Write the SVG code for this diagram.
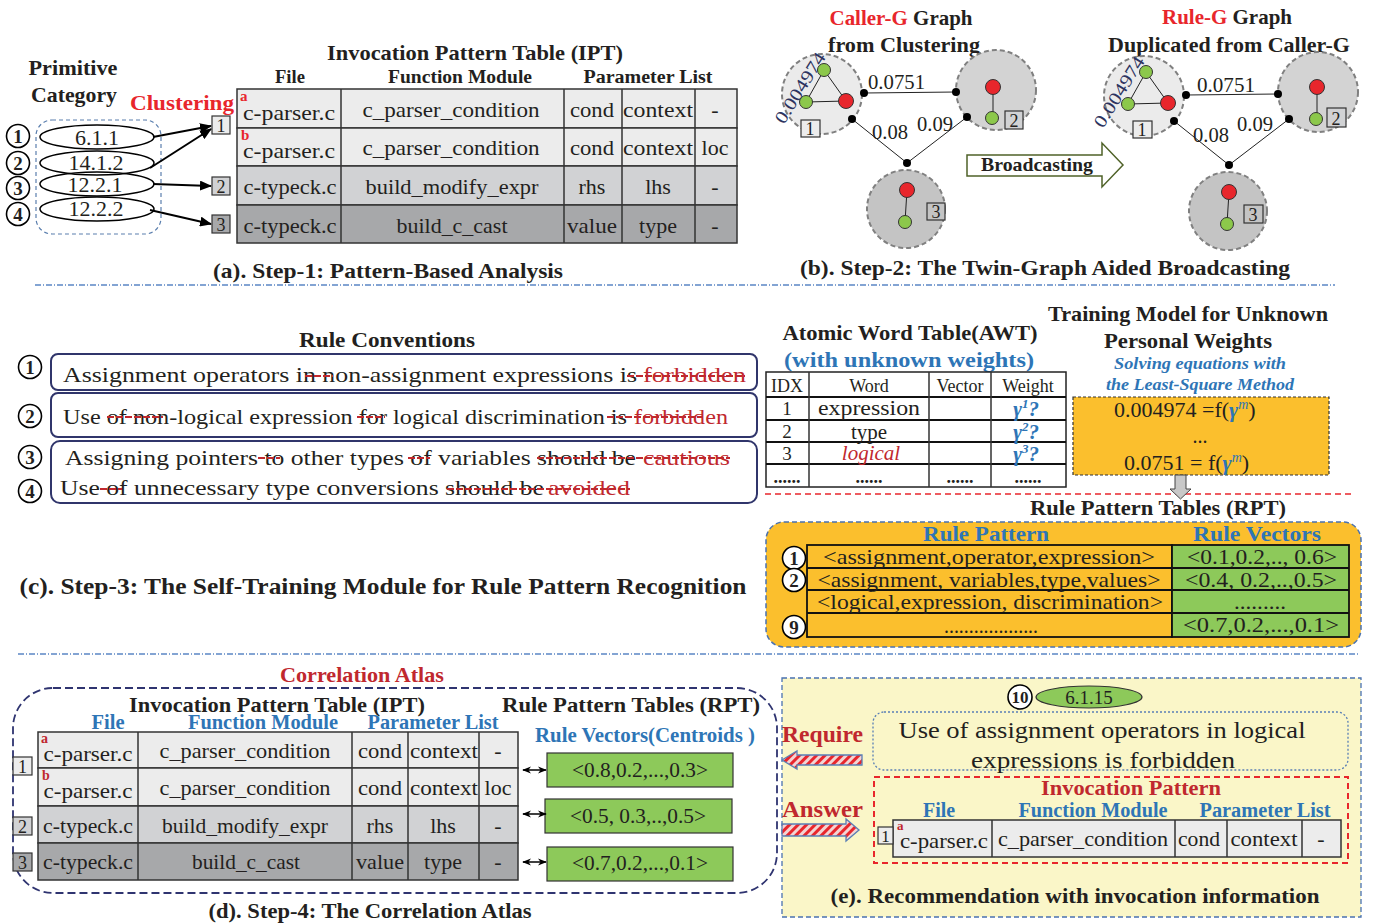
<svg xmlns="http://www.w3.org/2000/svg" width="1374" height="923" viewBox="0 0 1374 923">
<style>
text{font-family:"Liberation Serif","Times New Roman",serif;fill:#231f20}
.b{font-weight:bold}
.m{text-anchor:middle}
.red{fill:#e8262c}
.dred{fill:#c0282e}
.blue{fill:#2e75b6}
.cell{stroke:#333;stroke-width:1.5}
.c1{fill:#ececec}
.c2{fill:#d1d2d4}
.c3{fill:#a7a8aa}
.vl{stroke:#333;stroke-width:1.5}
.strike{stroke:#c0282e;stroke-width:2;stroke-dasharray:7 2;fill:none}
.circ{fill:#fff;stroke:#000;stroke-width:1.6}
.cn{font-weight:bold;text-anchor:middle;font-size:19px}
.cluster{stroke:#808080;stroke-width:2;stroke-dasharray:5 3}
.gn{fill:#8cc84b;stroke:#333;stroke-width:1}
.rn{fill:#e8262c;stroke:#333;stroke-width:1}
.edge{stroke:#222;stroke-width:1;fill:none}
.sep{stroke:#5b87c5;stroke-width:1.5;stroke-dasharray:6 2 1 2}
.green{fill:#8dc95a;stroke:#333;stroke-width:1.2}
.box{stroke:#333;stroke-width:1.2}
.rule{fill:#fff;stroke:#30356b;stroke-width:2}
</style>
<defs>
<marker id="ah" viewBox="0 0 12 10" refX="11" refY="5" markerWidth="12" markerHeight="10" markerUnits="userSpaceOnUse" orient="auto"><path d="M0,0 L12,5 L0,10 z" fill="#000"/></marker>
<marker id="ah2" viewBox="0 0 10 8" refX="9" refY="4" markerWidth="9" markerHeight="8" markerUnits="userSpaceOnUse" orient="auto-start-reverse"><path d="M0,0 L10,4 L0,8 L3,4 z" fill="#000"/></marker>
<pattern id="hatch" patternUnits="userSpaceOnUse" width="6" height="6" patternTransform="rotate(45)"><rect width="6" height="6" fill="#f2d4d4"/><rect width="3" height="6" fill="#e8262c"/></pattern>
</defs>

<!-- separators -->
<line class="sep" x1="35" y1="285" x2="1335" y2="285"/>
<line class="sep" x1="18" y1="654" x2="1360" y2="654"/>

<!-- ===== (a) ===== -->
<g id="a-primitive">
<text x="73" y="75" class="b m" font-size="22" textLength="89" lengthAdjust="spacingAndGlyphs">Primitive</text>
<text x="74" y="102" class="b m" font-size="22" textLength="86" lengthAdjust="spacingAndGlyphs">Category</text>
<rect x="36" y="120" width="125" height="114" rx="16" fill="none" stroke="#5b7fae" stroke-width="1.2" stroke-dasharray="4 3"/>
</g>
<text x="130" y="110" class="b red" font-size="22" textLength="104" lengthAdjust="spacingAndGlyphs">Clustering</text>
<g id="a-cat1">
<circle class="circ" cx="18" cy="136" r="11.5"/><text x="18" y="143" class="cn">1</text>
<ellipse cx="97" cy="137" rx="57" ry="12" fill="none" stroke="#000" stroke-width="1.5"/>
<text x="97" y="145" class="m" font-size="22">6.1.1</text>
</g>
<g id="a-cat2">
<circle class="circ" cx="18" cy="163" r="11.5"/><text x="18" y="170" class="cn">2</text>
<ellipse cx="97" cy="163" rx="57" ry="12" fill="none" stroke="#000" stroke-width="1.5"/>
<text x="96" y="170" class="m" font-size="22">14.1.2</text>
</g>
<g id="a-cat3">
<circle class="circ" cx="18" cy="188" r="11.5"/><text x="18" y="195" class="cn">3</text>
<ellipse cx="97" cy="184" rx="57" ry="12" fill="none" stroke="#000" stroke-width="1.5"/>
<text x="95" y="192" class="m" font-size="22">12.2.1</text>
</g>
<g id="a-cat4">
<circle class="circ" cx="18" cy="214" r="11.5"/><text x="18" y="221" class="cn">4</text>
<ellipse cx="97" cy="209" rx="57" ry="12" fill="none" stroke="#000" stroke-width="1.5"/>
<text x="96" y="216" class="m" font-size="22">12.2.2</text>
</g>
<g id="a-label1"><rect x="212" y="116" width="18" height="18" class="c1 box"/><text x="221" y="132" class="m" font-size="18">1</text></g>
<g id="a-label2"><rect x="212" y="177" width="18" height="18" class="c2 box"/><text x="221" y="193" class="m" font-size="18">2</text></g>
<g id="a-label3"><rect x="212" y="215" width="18" height="18" class="c3 box"/><text x="221" y="231" class="m" font-size="18">3</text></g>

<g id="a-ipt">
<text x="475" y="60" class="b m" font-size="22" textLength="296" lengthAdjust="spacingAndGlyphs">Invocation Pattern Table (IPT)</text>
<text x="290" y="83" class="b m" font-size="18" textLength="30" lengthAdjust="spacingAndGlyphs">File</text>
<text x="460" y="83" class="b m" font-size="18" textLength="144" lengthAdjust="spacingAndGlyphs">Function Module</text>
<text x="648" y="83" class="b m" font-size="18" textLength="129" lengthAdjust="spacingAndGlyphs">Parameter  List</text>
<rect x="237" y="89" width="500" height="39" class="c1 cell"/>
<rect x="237" y="128" width="500" height="38" class="c1 cell"/>
<rect x="237" y="166" width="500" height="39" class="c2 cell"/>
<rect x="237" y="205" width="500" height="38" class="c3 cell"/>
<path class="vl" d="M341,89V243M564,89V243M622,89V243M695,89V243"/>
<g font-size="22">
<text x="289" y="120" class="m" textLength="92" lengthAdjust="spacingAndGlyphs">c-parser.c</text>
<text x="451" y="117" class="m" textLength="177" lengthAdjust="spacingAndGlyphs">c_parser_condition</text>
<text x="592" y="117" class="m" textLength="44" lengthAdjust="spacingAndGlyphs">cond</text>
<text x="658" y="117" class="m" textLength="70" lengthAdjust="spacingAndGlyphs">context</text>
<text x="715" y="117" class="m">-</text>
<text x="289" y="158" class="m" textLength="92" lengthAdjust="spacingAndGlyphs">c-parser.c</text>
<text x="451" y="155" class="m" textLength="177" lengthAdjust="spacingAndGlyphs">c_parser_condition</text>
<text x="592" y="155" class="m" textLength="44" lengthAdjust="spacingAndGlyphs">cond</text>
<text x="658" y="155" class="m" textLength="70" lengthAdjust="spacingAndGlyphs">context</text>
<text x="715" y="155" class="m">loc</text>
<text x="290" y="194" class="m" textLength="93" lengthAdjust="spacingAndGlyphs">c-typeck.c</text>
<text x="452" y="194" class="m" textLength="173" lengthAdjust="spacingAndGlyphs">build_modify_expr</text>
<text x="592" y="194" class="m">rhs</text>
<text x="658" y="194" class="m">lhs</text>
<text x="715" y="194" class="m">-</text>
<text x="290" y="233" class="m" textLength="93" lengthAdjust="spacingAndGlyphs">c-typeck.c</text>
<text x="452" y="233" class="m" textLength="111" lengthAdjust="spacingAndGlyphs">build_c_cast</text>
<text x="592" y="233" class="m" textLength="50" lengthAdjust="spacingAndGlyphs">value</text>
<text x="658" y="233" class="m">type</text>
<text x="715" y="233" class="m">-</text>
</g>
<text x="240" y="101" class="b red" font-size="15">a</text>
<text x="241" y="140" class="b red" font-size="15">b</text>
</g>
<text x="388" y="278" class="b m" font-size="22" textLength="350" lengthAdjust="spacingAndGlyphs">(a). Step-1: Pattern-Based Analysis</text>

<!-- ===== (b) ===== -->
<g id="b-caller-title">
<text x="901" y="25" class="b m" font-size="22" textLength="143" lengthAdjust="spacingAndGlyphs"><tspan class="red">Caller-G</tspan> Graph</text>
<text x="904" y="52" class="b m" font-size="22" textLength="152" lengthAdjust="spacingAndGlyphs">from Clustering</text>
</g>
<g id="b-rule-title">
<text x="1227" y="24" class="b m" font-size="22" textLength="130" lengthAdjust="spacingAndGlyphs"><tspan class="red">Rule-G</tspan> Graph</text>
<text x="1229" y="52" class="b m" font-size="22" textLength="242" lengthAdjust="spacingAndGlyphs">Duplicated from Caller-G</text>
</g>

<g id="b-caller-c1">
<circle class="cluster" cx="822" cy="94" r="40" fill="#ebebeb"/>
<path class="edge" d="M824,70L806,102L846,101Z"/>
<circle class="gn" cx="824" cy="70" r="6.5"/><circle class="gn" cx="806" cy="102" r="6.5"/><circle class="rn" cx="846" cy="101" r="7.5"/>
<rect x="801" y="120" width="19" height="17" class="c1 box"/><text x="810" y="135" class="m" font-size="18">1</text>
<text transform="translate(784,125) rotate(-58)" font-size="18" style="fill:#2d3460" textLength="80" lengthAdjust="spacingAndGlyphs">0.004974</text>
</g>
<g id="b-caller-c2">
<circle class="cluster" cx="996" cy="90" r="40" fill="#d3d3d3"/>
<path class="edge" d="M993,87V118"/>
<circle class="rn" cx="993" cy="87" r="7.5"/><circle class="gn" cx="992" cy="118" r="6.5"/>
<rect x="1005" y="111" width="18" height="18" class="c2 box"/><text x="1014" y="127" class="m" font-size="18">2</text>
</g>
<g id="b-caller-c3">
<circle class="cluster" cx="906" cy="209" r="39" fill="#c4c4c4"/>
<path class="edge" d="M907,190L905,222"/>
<circle class="rn" cx="907" cy="190" r="7.5"/><circle class="gn" cx="905" cy="222" r="6.5"/>
<rect x="927" y="203" width="18" height="17" class="box" fill="#c4c4c4"/><text x="936" y="218" class="m" font-size="18">3</text>
</g>

<g id="b-rule-c1" transform="translate(322,2)">
<circle class="cluster" cx="822" cy="94" r="40" fill="#ebebeb"/>
<path class="edge" d="M824,70L806,102L846,101Z"/>
<circle class="gn" cx="824" cy="70" r="6.5"/><circle class="gn" cx="806" cy="102" r="6.5"/><circle class="rn" cx="846" cy="101" r="7.5"/>
<rect x="811" y="119" width="19" height="17" class="c1 box"/><text x="820" y="134" class="m" font-size="18">1</text>
<text transform="translate(781,127) rotate(-58)" font-size="18" style="fill:#2d3460" textLength="80" lengthAdjust="spacingAndGlyphs">0.004974</text>
</g>
<g id="b-rule-c2" transform="translate(322,2)">
<circle class="cluster" cx="996" cy="90" r="40" fill="#d3d3d3"/>
<path class="edge" d="M995,85V117"/>
<circle class="rn" cx="995" cy="85" r="7.5"/><circle class="gn" cx="994" cy="117" r="6.5"/>
<rect x="1005" y="106" width="19" height="19" class="c2 box"/><text x="1014" y="123" class="m" font-size="18">2</text>
</g>
<g id="b-rule-c3" transform="translate(322,2)">
<circle class="cluster" cx="906" cy="209" r="39" fill="#c4c4c4"/>
<path class="edge" d="M907,190L905,222"/>
<circle class="rn" cx="907" cy="190" r="7.5"/><circle class="gn" cx="905" cy="222" r="6.5"/>
<rect x="922" y="203" width="19" height="18" class="box" fill="#c4c4c4"/><text x="931" y="219" class="m" font-size="18">3</text>
</g>
<text x="1045" y="275" class="b m" font-size="22" textLength="490" lengthAdjust="spacingAndGlyphs">(b). Step-2: The Twin-Graph Aided Broadcasting</text>

<!-- ===== (c) ===== -->
<text x="387" y="347" class="b m" font-size="21" textLength="176" lengthAdjust="spacingAndGlyphs">Rule  Conventions</text>
<g id="c-rule1">
<rect class="rule" x="51" y="354" width="706" height="36" rx="7"/>
<circle class="circ" cx="30" cy="367" r="11.5"/><text x="30" y="374" class="cn">1</text>
<text x="63" y="382" font-size="22" textLength="574" lengthAdjust="spacingAndGlyphs">Assignment operators in non-assignment expressions is</text>
<text x="643" y="382" font-size="22" class="dred" textLength="103" lengthAdjust="spacingAndGlyphs">forbidden</text>
<path class="strike" d="M305,376H333M627,376H745"/>
</g>
<g id="c-rule2">
<rect class="rule" x="51" y="393" width="706" height="44" rx="7"/>
<circle class="circ" cx="30" cy="416" r="11.5"/><text x="30" y="423" class="cn">2</text>
<text x="63" y="424" font-size="22" textLength="564" lengthAdjust="spacingAndGlyphs">Use of non-logical expression for logical discrimination is</text>
<text x="634" y="424" font-size="22" class="dred" textLength="94" lengthAdjust="spacingAndGlyphs">forbidden</text>
<path class="strike" d="M107,417H163M357,417H385M607,417H703"/>
</g>
<g id="c-rule34">
<rect class="rule" x="51" y="441" width="706" height="62" rx="9"/>
<circle class="circ" cx="30" cy="457" r="11.5"/><text x="30" y="464" class="cn">3</text>
<circle class="circ" cx="30" cy="491" r="11.5"/><text x="30" y="498" class="cn">4</text>
<text x="65" y="465" font-size="22" textLength="571" lengthAdjust="spacingAndGlyphs">Assigning pointers to other types of variables should be</text>
<text x="643" y="465" font-size="22" class="dred" textLength="87" lengthAdjust="spacingAndGlyphs">cautious</text>
<text x="60" y="495" font-size="22" textLength="484" lengthAdjust="spacingAndGlyphs">Use of unnecessary type conversions should be</text>
<text x="548" y="495" font-size="22" class="dred" textLength="82" lengthAdjust="spacingAndGlyphs">avoided</text>
<path class="strike" d="M258,458H280M408,458H430M537,458H730M100,489H122M447,489H630"/>
</g>
<text x="383" y="594" class="b m" font-size="24" textLength="727" lengthAdjust="spacingAndGlyphs">(c). Step-3: The Self-Training Module for Rule Pattern Recognition</text>

<!-- AWT -->
<g id="c-awt">
<text x="910" y="340" class="b m" font-size="21" textLength="255" lengthAdjust="spacingAndGlyphs">Atomic Word Table(AWT)</text>
<text x="909" y="367" class="b m blue" font-size="22" textLength="250" lengthAdjust="spacingAndGlyphs">(with unknown weights)</text>
<rect x="766" y="372" width="300" height="115" fill="#fff" stroke="#222" stroke-width="1.5"/>
<path stroke="#111" stroke-width="2.2" d="M766,397H1066M766,420H1066M766,442H1066M766,464H1066"/>
<path class="vl" d="M809,372V487M929,372V487M991,372V487"/>
<g font-size="18">
<text x="787" y="392" class="m">IDX</text>
<text x="869" y="392" class="m">Word</text>
<text x="960" y="392" class="m">Vector</text>
<text x="1028" y="392" class="m">Weight</text>
<text x="787" y="415" class="m" font-size="19">1</text>
<text x="869" y="415" class="m" font-size="21" textLength="102" lengthAdjust="spacingAndGlyphs">expression</text>
<text x="787" y="438" class="m" font-size="19">2</text>
<text x="869" y="439" class="m" font-size="21">type</text>
<text x="787" y="460" class="m" font-size="19">3</text>
<text x="871" y="460" class="m dred" font-size="21" font-style="italic">logical</text>
<text x="787" y="483" class="m" font-weight="bold">......</text>
<text x="869" y="483" class="m" font-weight="bold">......</text>
<text x="960" y="483" class="m" font-weight="bold">......</text>
<text x="1028" y="483" class="m" font-weight="bold">......</text>
</g>
<g font-size="21" font-style="italic" font-weight="bold">
<text x="1026" y="416" class="m blue">γ<tspan dy="-8" font-size="13">1</tspan><tspan dy="8">?</tspan></text>
<text x="1026" y="439" class="m blue">γ<tspan dy="-8" font-size="13">2</tspan><tspan dy="8">?</tspan></text>
<text x="1026" y="461" class="m blue">γ<tspan dy="-8" font-size="13">3</tspan><tspan dy="8">?</tspan></text>
</g>
</g>

<g id="c-training">
<text x="1188" y="321" class="b m" font-size="22" textLength="280" lengthAdjust="spacingAndGlyphs">Training Model for Unknown</text>
<text x="1188" y="348" class="b m" font-size="22" textLength="168" lengthAdjust="spacingAndGlyphs">Personal Weights</text>
<text x="1200" y="369" class="b m blue" font-size="16" font-style="italic" textLength="172" lengthAdjust="spacingAndGlyphs">Solving  equations with</text>
<text x="1200" y="390" class="b m blue" font-size="16" font-style="italic" textLength="188" lengthAdjust="spacingAndGlyphs">the Least-Square Method</text>
<rect x="1073" y="397" width="256" height="78" fill="#fbbf2d" stroke="#333" stroke-width="1.2" stroke-dasharray="3 2"/>
<text x="1114" y="417" font-size="22">0.004974 =f(<tspan class="blue" font-style="italic" font-weight="bold">γ</tspan><tspan dy="-8" font-size="14" class="blue" font-style="italic">m</tspan><tspan dy="8">)</tspan></text>
<text x="1200" y="443" class="m" font-size="20">...</text>
<text x="1124" y="470" font-size="22">0.0751 = f(<tspan class="blue" font-style="italic" font-weight="bold">γ</tspan><tspan dy="-8" font-size="14" class="blue" font-style="italic">m</tspan><tspan dy="8">)</tspan></text>
</g>
<line x1="765" y1="494" x2="1355" y2="494" stroke="#e8262c" stroke-width="1.5" stroke-dasharray="6 4"/>

<!-- RPT -->
<g id="c-rpt">
<text x="1158" y="515" class="b m" font-size="22" textLength="256" lengthAdjust="spacingAndGlyphs">Rule  Pattern Tables (RPT)</text>
<rect x="766" y="522" width="595" height="125" rx="18" fill="#fbbf2d" stroke="#4a72b0" stroke-width="1.5" stroke-dasharray="5 3"/>
<text x="986" y="541" class="b m blue" font-size="22" textLength="126" lengthAdjust="spacingAndGlyphs">Rule Pattern</text>
<text x="1257" y="541" class="b m blue" font-size="22" textLength="128" lengthAdjust="spacingAndGlyphs">Rule Vectors</text>
<rect x="807" y="545" width="365" height="92" fill="#fbbf2d" stroke="#111" stroke-width="1.8"/>
<rect x="1172" y="545" width="177" height="92" fill="#8dc95a" stroke="#111" stroke-width="1.8"/>
<path stroke="#111" stroke-width="1.8" d="M807,568H1349M807,590H1349M807,613H1349"/>
<g font-size="21">
<text x="989" y="564" class="m" textLength="332" lengthAdjust="spacingAndGlyphs">&lt;assignment,operator,expression&gt;</text>
<text x="989" y="587" class="m" textLength="343" lengthAdjust="spacingAndGlyphs">&lt;assignment, variables,type,values&gt;</text>
<text x="990" y="609" class="m" textLength="346" lengthAdjust="spacingAndGlyphs">&lt;logical,expression, discrimination&gt;</text>
<text x="991" y="633" class="m" textLength="94" lengthAdjust="spacingAndGlyphs">...................</text>
<text x="1262" y="564" class="m" textLength="150" lengthAdjust="spacingAndGlyphs">&lt;0.1,0.2,.., 0.6&gt;</text>
<text x="1261" y="587" class="m" textLength="152" lengthAdjust="spacingAndGlyphs">&lt;0.4, 0.2,..,0.5&gt;</text>
<text x="1260" y="609" class="m" textLength="52" lengthAdjust="spacingAndGlyphs">.........</text>
<text x="1261" y="632" class="m" textLength="156" lengthAdjust="spacingAndGlyphs">&lt;0.7,0.2,...,0.1&gt;</text>
</g>
<circle class="circ" cx="794" cy="558" r="11.5"/><text x="794" y="565" class="cn">1</text>
<circle class="circ" cx="794" cy="580" r="11.5"/><text x="794" y="587" class="cn">2</text>
<circle class="circ" cx="794" cy="627" r="11.5"/><text x="794" y="634" class="cn">9</text>
</g>

<!-- ===== (d) ===== -->
<text x="362" y="682" class="b m dred" font-size="22" textLength="164" lengthAdjust="spacingAndGlyphs">Correlation Atlas</text>
<rect x="13" y="688" width="764" height="205" rx="40" fill="none" stroke="#2f3470" stroke-width="1.8" stroke-dasharray="8 4"/>
<g id="d-ipt">
<text x="277" y="712" class="b m" font-size="22" textLength="296" lengthAdjust="spacingAndGlyphs">Invocation Pattern Table (IPT)</text>
<text x="108" y="729" class="b m blue" font-size="20" textLength="33" lengthAdjust="spacingAndGlyphs">File</text>
<text x="263" y="729" class="b m blue" font-size="20" textLength="150" lengthAdjust="spacingAndGlyphs">Function Module</text>
<text x="433" y="729" class="b m blue" font-size="20" textLength="131" lengthAdjust="spacingAndGlyphs">Parameter List</text>
<rect x="38" y="732" width="480" height="36" class="c1 cell"/>
<rect x="38" y="768" width="480" height="38" class="c1 cell"/>
<rect x="38" y="806" width="480" height="37" class="c2 cell"/>
<rect x="38" y="843" width="480" height="37" class="c3 cell"/>
<path class="vl" d="M138,732V880M352,732V880M408,732V880M479,732V880"/>
<g font-size="22">
<text x="88" y="761" class="m" textLength="89" lengthAdjust="spacingAndGlyphs">c-parser.c</text>
<text x="245" y="758" class="m" textLength="171" lengthAdjust="spacingAndGlyphs">c_parser_condition</text>
<text x="380" y="758" class="m" textLength="44" lengthAdjust="spacingAndGlyphs">cond</text>
<text x="444" y="758" class="m" textLength="68" lengthAdjust="spacingAndGlyphs">context</text>
<text x="498" y="758" class="m">-</text>
<text x="88" y="798" class="m" textLength="89" lengthAdjust="spacingAndGlyphs">c-parser.c</text>
<text x="245" y="795" class="m" textLength="171" lengthAdjust="spacingAndGlyphs">c_parser_condition</text>
<text x="380" y="795" class="m" textLength="44" lengthAdjust="spacingAndGlyphs">cond</text>
<text x="444" y="795" class="m" textLength="68" lengthAdjust="spacingAndGlyphs">context</text>
<text x="498" y="795" class="m">loc</text>
<text x="88" y="833" class="m" textLength="90" lengthAdjust="spacingAndGlyphs">c-typeck.c</text>
<text x="245" y="833" class="m" textLength="166" lengthAdjust="spacingAndGlyphs">build_modify_expr</text>
<text x="380" y="833" class="m">rhs</text>
<text x="443" y="833" class="m">lhs</text>
<text x="498" y="833" class="m">-</text>
<text x="88" y="869" class="m" textLength="90" lengthAdjust="spacingAndGlyphs">c-typeck.c</text>
<text x="246" y="869" class="m" textLength="108" lengthAdjust="spacingAndGlyphs">build_c_cast</text>
<text x="380" y="869" class="m" textLength="48" lengthAdjust="spacingAndGlyphs">value</text>
<text x="443" y="869" class="m">type</text>
<text x="498" y="869" class="m">-</text>
</g>
<text x="41" y="743" class="b dred" font-size="14">a</text>
<text x="42" y="780" class="b dred" font-size="14">b</text>
</g>
<g id="d-label1"><rect x="13" y="757" width="19" height="18" class="c1 box"/><text x="22.5" y="773" class="m" font-size="18">1</text></g>
<g id="d-label2"><rect x="13" y="817" width="19" height="18" class="c2 box"/><text x="22.5" y="833" class="m" font-size="18">2</text></g>
<g id="d-label3"><rect x="13" y="853" width="19" height="18" class="c3 box"/><text x="22.5" y="869" class="m" font-size="18">3</text></g>
<g id="d-rpt">
<text x="631" y="712" class="b m" font-size="22" textLength="258" lengthAdjust="spacingAndGlyphs">Rule  Pattern Tables (RPT)</text>
<text x="645" y="742" class="b m blue" font-size="20" textLength="220" lengthAdjust="spacingAndGlyphs">Rule Vectors(Centroids )</text>
</g>
<g id="d-vec1"><rect x="547" y="753" width="186" height="34" class="green"/><text x="640" y="777" class="m" font-size="21" textLength="136" lengthAdjust="spacingAndGlyphs">&lt;0.8,0.2,...,0.3&gt;</text></g>
<g id="d-vec2"><rect x="545" y="799" width="187" height="34" class="green"/><text x="638" y="823" class="m" font-size="21" textLength="136" lengthAdjust="spacingAndGlyphs">&lt;0.5, 0.3,..,0.5&gt;</text></g>
<g id="d-vec3"><rect x="547" y="847" width="186" height="34" class="green"/><text x="640" y="870" class="m" font-size="21" textLength="136" lengthAdjust="spacingAndGlyphs">&lt;0.7,0.2,...,0.1&gt;</text></g>
<text x="370" y="918" class="b m" font-size="22" textLength="323" lengthAdjust="spacingAndGlyphs">(d). Step-4: The Correlation Atlas</text>

<!-- ===== (e) ===== -->
<g id="e-panel">
<rect x="782" y="678" width="579" height="239" fill="#faf6c8" stroke="#4a72b0" stroke-width="1.3" stroke-dasharray="5 3"/>
</g>
<g id="e-category">
<circle class="circ" cx="1020" cy="697" r="12"/><text x="1020" y="703" class="b m" font-size="17">10</text>
<ellipse cx="1089" cy="697" rx="53" ry="11" class="green"/>
<text x="1089" y="704" class="m" font-size="19">6.1.15</text>
</g>
<g id="e-require-text">
<rect x="873" y="712" width="475" height="58" rx="11" fill="none" stroke="#5a7fb5" stroke-width="1.3" stroke-dasharray="2 2"/>
<text x="1102" y="738" class="m" font-size="24" textLength="407" lengthAdjust="spacingAndGlyphs">Use of assignment operators in logical</text>
<text x="1103" y="768" class="m" font-size="24" textLength="264" lengthAdjust="spacingAndGlyphs">expressions is forbidden</text>
</g>
<text x="782" y="742" class="b dred" font-size="24" textLength="81" lengthAdjust="spacingAndGlyphs">Require</text>
<text x="782" y="817" class="b dred" font-size="24" textLength="81" lengthAdjust="spacingAndGlyphs">Answer</text>
<g id="e-pattern">
<rect x="874" y="777" width="474" height="86" fill="none" stroke="#e8262c" stroke-width="2" stroke-dasharray="6 4"/>
<text x="1131" y="795" class="b m dred" font-size="22" textLength="180" lengthAdjust="spacingAndGlyphs">Invocation Pattern</text>
<text x="939" y="817" class="b m blue" font-size="20" textLength="32" lengthAdjust="spacingAndGlyphs">File</text>
<text x="1093" y="817" class="b m blue" font-size="20" textLength="149" lengthAdjust="spacingAndGlyphs">Function Module</text>
<text x="1265" y="817" class="b m blue" font-size="20" textLength="131" lengthAdjust="spacingAndGlyphs">Parameter List</text>
<rect x="893" y="820" width="448" height="37" class="c1 cell"/>
<path class="vl" d="M992,820V857M1175,820V857M1227,820V857M1302,820V857"/>
<rect x="878" y="827" width="15" height="17" class="c1 box"/><text x="885.5" y="842" class="m" font-size="17">1</text>
<text x="897" y="830" class="b dred" font-size="13">a</text>
<g font-size="22">
<text x="944" y="848" class="m" textLength="88" lengthAdjust="spacingAndGlyphs">c-parser.c</text>
<text x="1083" y="846" class="m" textLength="170" lengthAdjust="spacingAndGlyphs">c_parser_condition</text>
<text x="1199" y="846" class="m" textLength="42" lengthAdjust="spacingAndGlyphs">cond</text>
<text x="1264" y="846" class="m" textLength="67" lengthAdjust="spacingAndGlyphs">context</text>
<text x="1321" y="846" class="m">-</text>
</g>
</g>
<text x="1075" y="903" class="b m" font-size="22" textLength="489" lengthAdjust="spacingAndGlyphs">(e). Recommendation with invocation information</text>

<!-- ===== connectors ===== -->
<g id="connectors">
<g stroke="#000" stroke-width="2" fill="none" marker-end="url(#ah)">
<line x1="153" y1="137" x2="211" y2="126"/>
<line x1="150" y1="168" x2="211" y2="129"/>
<line x1="153" y1="184" x2="211" y2="186"/>
<line x1="150" y1="210" x2="211" y2="224"/>
</g>
<g class="edge">
<line x1="864" y1="93" x2="956" y2="92"/>
<line x1="852" y1="119" x2="907" y2="163"/>
<line x1="967" y1="117" x2="907" y2="163"/>
<line x1="1186" y1="95" x2="1278" y2="94"/>
<line x1="1174" y1="121" x2="1229" y2="165"/>
<line x1="1289" y1="119" x2="1229" y2="165"/>
</g>
<g fill="#000">
<circle cx="864" cy="93" r="4"/><circle cx="956" cy="92" r="4"/><circle cx="852" cy="119" r="4"/><circle cx="967" cy="117" r="4"/><circle cx="907" cy="163" r="4"/>
<circle cx="1186" cy="95" r="4"/><circle cx="1278" cy="94" r="4"/><circle cx="1174" cy="121" r="4"/><circle cx="1289" cy="119" r="4"/><circle cx="1229" cy="165" r="4"/>
</g>
<g font-size="20">
<text x="868" y="89" textLength="57" lengthAdjust="spacingAndGlyphs">0.0751</text>
<text x="872" y="139" textLength="36" lengthAdjust="spacingAndGlyphs">0.08</text>
<text x="917" y="131" textLength="36" lengthAdjust="spacingAndGlyphs">0.09</text>
<text x="1197" y="92" textLength="58" lengthAdjust="spacingAndGlyphs">0.0751</text>
<text x="1193" y="142" textLength="36" lengthAdjust="spacingAndGlyphs">0.08</text>
<text x="1237" y="131" textLength="36" lengthAdjust="spacingAndGlyphs">0.09</text>
</g>
<g id="broadcasting">
<polygon points="967,155 1102,155 1102,143 1123,165 1102,187 1102,176 967,176" fill="#fff" stroke="#4f6228" stroke-width="1.5"/>
<text x="1037" y="171" class="b m" font-size="19" textLength="112" lengthAdjust="spacingAndGlyphs">Broadcasting</text>
</g>
<polygon points="1175,475 1186,475 1186,489 1191,489 1180.5,499 1170,489 1175,489" fill="#c8c8c8" stroke="#444" stroke-width="1"/>
<g stroke="#000" stroke-width="1.5" marker-start="url(#ah2)" marker-end="url(#ah2)">
<line x1="523" y1="770" x2="546" y2="770"/>
<line x1="523" y1="814" x2="546" y2="814"/>
<line x1="523" y1="862" x2="546" y2="862"/>
</g>
<polygon points="782,760 797,751 797,755 862,755 862,765 797,765 797,769" fill="url(#hatch)" stroke="#5a7fb5" stroke-width="1.3"/>
<polygon points="782,824 846,824 846,819 859,830 846,841 846,836 782,836" fill="url(#hatch)" stroke="#5a7fb5" stroke-width="1.3"/>
</g>
</svg>
